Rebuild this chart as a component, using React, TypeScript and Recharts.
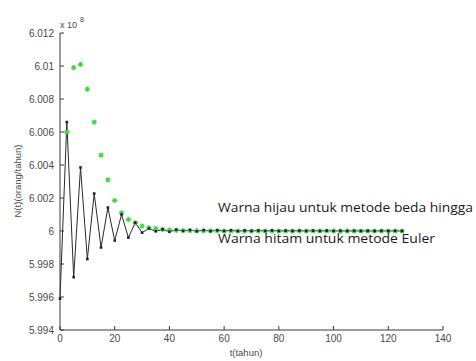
import React from "react";
import { ComposedChart, Line, XAxis, YAxis } from "recharts";

const tValues = [
  0, 2.5, 5, 7.5, 10, 12.5, 15, 17.5, 20, 22.5, 25, 27.5, 30, 32.5, 35, 37.5, 40, 42.5, 45, 47.5,
  50, 52.5, 55, 57.5, 60, 62.5, 65, 67.5, 70, 72.5, 75, 77.5, 80, 82.5, 85, 87.5, 90, 92.5, 95, 97.5,
  100, 102.5, 105, 107.5, 110, 112.5, 115, 117.5, 120, 122.5, 125,
];

// Euler method (black)
const eulerValues = [
  5.9959, 6.0066, 5.9972, 6.00385, 5.9983, 6.00227, 5.999, 6.00142, 5.99942, 6.001, 5.9996, 6.0005,
  5.9999, 6.00015, 5.99998, 6.0001, 5.99995, 6.00008, 6.0, 6.00006, 5.99998, 6.00005, 5.99999, 6.00004,
  6.0, 6.00004, 5.99999, 6.00003, 6.0, 6.00003, 6.0, 6.00003, 6.0, 6.00002, 6.0, 6.00002, 6.0, 6.00002,
  6.0, 6.00002, 6.0, 6.00001, 6.0, 6.00001, 6.0, 6.00001, 6.0, 6.00001, 6.0, 6.00001, 6.0,
];

// Finite difference method (green)
const bedaValues: (number | null)[] = [
  null, 6.006, 6.0099, 6.0101, 6.0086, 6.0066, 6.0046, 6.0031, 6.00185, 6.0011, 6.0007, 6.0005,
  6.0003, 6.0002, 6.00015, 6.0001, 6.00006, 6.00004, 6.00003, 6.00002, 6.00002, 6.00001, 6.00001, 6.00001,
  6.0, 6.0, 6.0, 6.0, 6.0, 6.0, 6.0, 6.0, 6.0, 6.0, 6.0, 6.0, 6.0, 6.0, 6.0, 6.0,
  6.0, 6.0, 6.0, 6.0, 6.0, 6.0, 6.0, 6.0, 6.0, 6.0, 6.0,
];

const xTicks = [0, 20, 40, 60, 80, 100, 120, 140];
const yTicks = [5.994, 5.996, 5.998, 6.0, 6.002, 6.004, 6.006, 6.008, 6.01, 6.012];
const yTickLabels = ["5.994", "5.996", "5.998", "6", "6.002", "6.004", "6.006", "6.008", "6.01", "6.012"];

const data = tValues.map((t, i) => ({ t, euler: eulerValues[i], beda: bedaValues[i] }));

const AXIS = "#3a3a3a";
const TICKTEXT = "#4a4a4a";
const FONT = "'Liberation Sans', Arial, sans-serif";

const XTick = (props: any) => {
  const { x, y, payload } = props;
  return (
    <g>
      <line x1={x} x2={x} y1={y} y2={y - 4} stroke={AXIS} strokeWidth={1} />
      <text x={x} y={y + 12} textAnchor="middle" fontSize={10} fill={TICKTEXT} fontFamily={FONT}>
        {payload.value}
      </text>
    </g>
  );
};

const YTick = (props: any) => {
  const { x, y, payload } = props;
  const idx = yTicks.findIndex((v) => Math.abs(v - payload.value) < 1e-9);
  const label = idx >= 0 ? yTickLabels[idx] : String(payload.value);
  return (
    <g>
      <line x1={x + 5} x2={x + 9} y1={y} y2={y} stroke={AXIS} strokeWidth={1} />
      <text x={x - 1} y={y + 3.5} textAnchor="end" fontSize={10} fill={TICKTEXT} fontFamily={FONT}>
        {label}
      </text>
    </g>
  );
};

const BlackDot = (props: any) => {
  const { cx, cy, index } = props;
  if (cx == null || cy == null) return <g key={`b${index}`} />;
  return <rect key={`b${index}`} x={cx - 1.3} y={cy - 1.3} width={2.6} height={2.6} fill="#1c1c48" />;
};

const GreenStar = (props: any) => {
  const { cx, cy, index, value } = props;
  if (cx == null || cy == null || value == null) return <g key={`g${index}`} />;
  const s = 2.6;
  const c = "#3fd83f";
  return (
    <g key={`g${index}`} stroke={c} strokeWidth={1.3}>
      <line x1={cx - s} x2={cx + s} y1={cy} y2={cy} />
      <line x1={cx} x2={cx} y1={cy - s} y2={cy + s} />
      <line x1={cx - s * 0.7} x2={cx + s * 0.7} y1={cy - s * 0.7} y2={cy + s * 0.7} />
      <line x1={cx - s * 0.7} x2={cx + s * 0.7} y1={cy + s * 0.7} y2={cy - s * 0.7} />
    </g>
  );
};

export default function App() {
  return (
    <div style={{ position: "absolute", left: 0, top: 0, width: 476, height: 361, background: "#fff" }}>
      <ComposedChart
        width={476}
        height={361}
        data={data}
        margin={{ top: 33, right: 33, bottom: 0, left: 0 }}
      >
        <XAxis
          dataKey="t"
          type="number"
          domain={[0, 140]}
          ticks={xTicks}
          interval={0}
          height={31}
          tickSize={0}
          tickMargin={0}
          tickLine={false}
          axisLine={{ stroke: AXIS, strokeWidth: 1 }}
          tick={<XTick />}
        />
        <YAxis
          type="number"
          domain={[5.994, 6.012]}
          ticks={yTicks}
          interval={0}
          width={60}
          tickSize={0}
          tickMargin={5}
          tickLine={false}
          allowDataOverflow
          axisLine={{ stroke: AXIS, strokeWidth: 1 }}
          tick={<YTick />}
        />
        <Line
          dataKey="beda"
          stroke="none"
          strokeWidth={0}
          dot={<GreenStar />}
          activeDot={false}
          isAnimationActive={false}
          connectNulls={false}
        />
        <Line
          dataKey="euler"
          stroke="#2a2a2a"
          strokeWidth={1}
          dot={<BlackDot />}
          activeDot={false}
          isAnimationActive={false}
        />
      </ComposedChart>
      <svg
        width={476}
        height={361}
        style={{ position: "absolute", left: 0, top: 0, pointerEvents: "none" }}
      >
        <text x={60} y={28} fontSize={9} fill={TICKTEXT} fontFamily={FONT}>
          x 10
        </text>
        <text x={80} y={22} fontSize={7} fill={TICKTEXT} fontFamily={FONT}>
          8
        </text>
        <text
          x={0}
          y={0}
          transform="translate(21,181) rotate(-90)"
          textAnchor="middle"
          fontSize={9.5}
          fill={TICKTEXT}
          fontFamily={FONT}
        >
          N(t)(orang/tahun)
        </text>
        <text x={246} y={356} textAnchor="middle" fontSize={9.5} fill={TICKTEXT} fontFamily={FONT}>
          t(tahun)
        </text>
        <text
          x={218}
          y={212}
          fontSize={13.5}
          fill="#1a1a1a"
          fontFamily="'Open Sans', sans-serif"
          textLength={255}
          lengthAdjust="spacingAndGlyphs"
        >
          Warna hijau untuk metode beda hingga
        </text>
        <text
          x={218}
          y={243}
          fontSize={13.5}
          fill="#1a1a1a"
          fontFamily="'Open Sans', sans-serif"
          textLength={217}
          lengthAdjust="spacingAndGlyphs"
        >
          Warna hitam untuk metode Euler
        </text>
      </svg>
    </div>
  );
}
